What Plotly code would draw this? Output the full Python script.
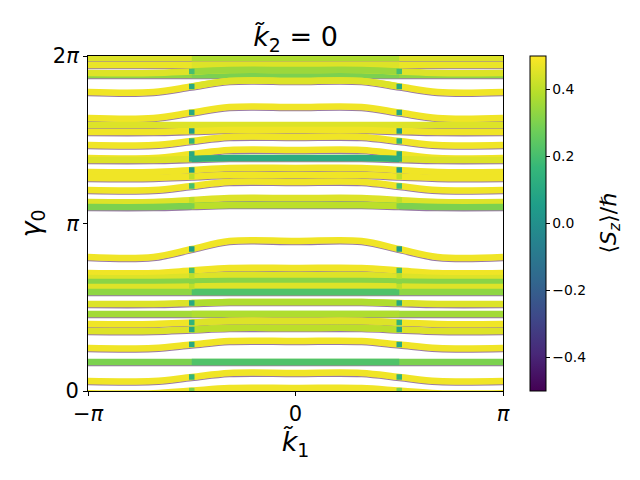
import numpy as np
import plotly.graph_objects as go
from plotly.colors import sample_colorscale

PI = np.pi

# ---- data ----
# gamma_0 level of each band away from the centre (|k1| > pi/2) and in the centre (|k1| < pi/2)
gamma_outer = [6.246, 6.114, 5.927, 5.964, 5.608, 5.120, 4.989, 4.858, 4.614, 4.370,
               4.333, 4.108, 3.995, 3.770, 3.545, 3.451, 2.513, 2.213, 2.119, 2.044,
               1.951, 1.857, 1.632, 1.444, 1.257, 1.125, 0.807, 0.544, 0.188, -0.040]
gamma_inner = [6.246, 6.114, 5.927, 6.021, 5.814, 5.327, 4.989, 4.895, 4.764, 4.520,
               4.370, 4.183, 4.051, 3.920, 3.620, 3.489, 2.813, 2.307, 2.176, 2.063,
               1.969, 1.857, 1.669, 1.444, 1.313, 1.182, 0.938, 0.544, 0.338, 0.056]
# spin expectation <Sz>/hbar of each band (outer part, centre part, at the kink)
sz_outer = [0.45, 0.47, 0.33, 0.45, 0.48, 0.48, 0.45, 0.48, 0.48, 0.48,
            0.45, 0.48, 0.48, 0.48, 0.45, 0.30, 0.48, 0.48, 0.45, 0.32,
            0.45, 0.33, 0.45, 0.36, 0.48, 0.45, 0.48, 0.30, 0.48, 0.48]
sz_inner = [0.38, 0.45, 0.30, 0.35, 0.45, 0.48, 0.45, 0.48, 0.48, 0.48,
            0.12, 0.48, 0.48, 0.48, 0.45, 0.40, 0.48, 0.48, 0.45, 0.32,
            0.45, 0.22, 0.38, 0.38, 0.45, 0.40, 0.48, 0.22, 0.48, 0.48]
sz_kink = [0.40, 0.45, 0.30, 0.20, 0.10, 0.10, 0.45, 0.05, 0.15, 0.10,
           0.12, 0.05, 0.40, 0.20, 0.40, 0.30, 0.05, 0.20, 0.40, 0.32,
           0.40, 0.22, 0.10, 0.38, 0.15, 0.10, 0.10, 0.22, 0.15, 0.30]

k_nodes = [-PI, -2.15, -PI / 2, -1.0, 0.0, 1.0, PI / 2, 2.15, PI]
cb_ticks = [-0.4, -0.2, 0.0, 0.2, 0.4]
cb_ticktext = ["\u22120.4", "\u22120.2", "0.0", "0.2", "0.4"]


def vcol(sz):
    return sample_colorscale("Viridis", [min(max(sz + 0.5, 0), 1)])[0]


FONT = "DejaVu Sans"
purple = vcol(-0.47)
fig = go.Figure()

# purple (opposite-spin) edge under each band
for o, i in zip(gamma_outer, gamma_inner):
    m = 0.5 * (o + i)
    ys = [o, o, m, i, i, i, m, o, o]
    fig.add_trace(go.Scatter(x=k_nodes, y=[v - 0.066 for v in ys], mode="lines",
                             line=dict(color=purple, width=1.6, shape="spline"),
                             opacity=0.55, hoverinfo="skip", showlegend=False))

# main bands
for o, i, so, si in zip(gamma_outer, gamma_inner, sz_outer, sz_inner):
    m = 0.5 * (o + i)
    ys = [o, o, m, i, i, i, m, o, o]
    fig.add_trace(go.Scatter(x=k_nodes, y=ys, mode="lines",
                             line=dict(color=vcol(so), width=6.5, shape="spline"),
                             hoverinfo="skip", showlegend=False))
    if abs(si - so) > 1e-9:
        fig.add_trace(go.Scatter(x=k_nodes[2:7], y=ys[2:7], mode="lines",
                                 line=dict(color=vcol(si), width=6.5, shape="spline"),
                                 hoverinfo="skip", showlegend=False))

# kink spots (only where the band shifts)
for o, i, sk in zip(gamma_outer, gamma_inner, sz_kink):
    if abs(o - i) < 1e-9:
        continue
    m = 0.5 * (o + i)
    fig.add_trace(go.Scatter(x=[-PI / 2, PI / 2], y=[m, m], mode="markers",
                             marker=dict(symbol="square", size=5.5, color=vcol(sk), line=dict(width=0)),
                             hoverinfo="skip", showlegend=False))

# colour bar carrier
fig.add_trace(go.Scatter(
    x=[0, 0], y=[-10, -10], mode="markers", showlegend=False, hoverinfo="skip",
    marker=dict(color=[-0.5, 0.5], colorscale="Viridis", cmin=-0.5, cmax=0.5, size=1,
                showscale=True,
                colorbar=dict(x=1.065, xanchor="left", xpad=0, y=0.5, yanchor="middle",
                              len=335, lenmode="pixels", thickness=16, ypad=0,
                              outlinecolor="black", outlinewidth=1,
                              tickvals=cb_ticks, ticktext=cb_ticktext, ticks="outside",
                              ticklen=3.5, tickcolor="black",
                              tickfont=dict(family=FONT, size=13.9, color="black")))))

fig.add_annotation(text="\u27e8<i>S<sub>z</sub></i>\u27e9/\u210f", textangle=-90,
                   x=(610 - 88) / 415, xref="paper", y=0.5, yref="paper",
                   xanchor="center", yanchor="middle", showarrow=False,
                   font=dict(family=FONT, size=22, color="black"))

axis_common = dict(showline=True, mirror=True, linecolor="black", linewidth=1,
                   ticks="outside", ticklen=4, tickwidth=1, tickcolor="black",
                   showgrid=False, zeroline=False,
                   tickfont=dict(family=FONT, size=21, color="black"))

fig.update_layout(
    width=640, height=480,
    margin=dict(l=88, r=137, t=56, b=89),
    plot_bgcolor="white", paper_bgcolor="white",
    title=dict(text="<i>k\u0303</i><sub>2</sub> = 0", x=0.5, xref="paper", xanchor="center",
               y=1 - 37 / 480, yref="container", yanchor="middle",
               font=dict(family=FONT, size=27, color="black")),
    xaxis=dict(range=[-PI, PI], tickvals=[-PI, 0, PI],
               ticktext=["\u2212<i>\u03c0</i>", "0", "<i>\u03c0</i>"],
               title=dict(text="<i>k\u0303</i><sub>1</sub>", standoff=6,
                          font=dict(family=FONT, size=27, color="black")),
               **axis_common),
    yaxis=dict(range=[0, 2 * PI], tickvals=[0, PI, 2 * PI],
               ticktext=["0", "<i>\u03c0</i>", "2<i>\u03c0</i>"],
               title=dict(text="<i>\u03b3</i><sub>0</sub>", standoff=4,
                          font=dict(family=FONT, size=27, color="black")),
               **axis_common),
)

fig.write_html("out.html")
